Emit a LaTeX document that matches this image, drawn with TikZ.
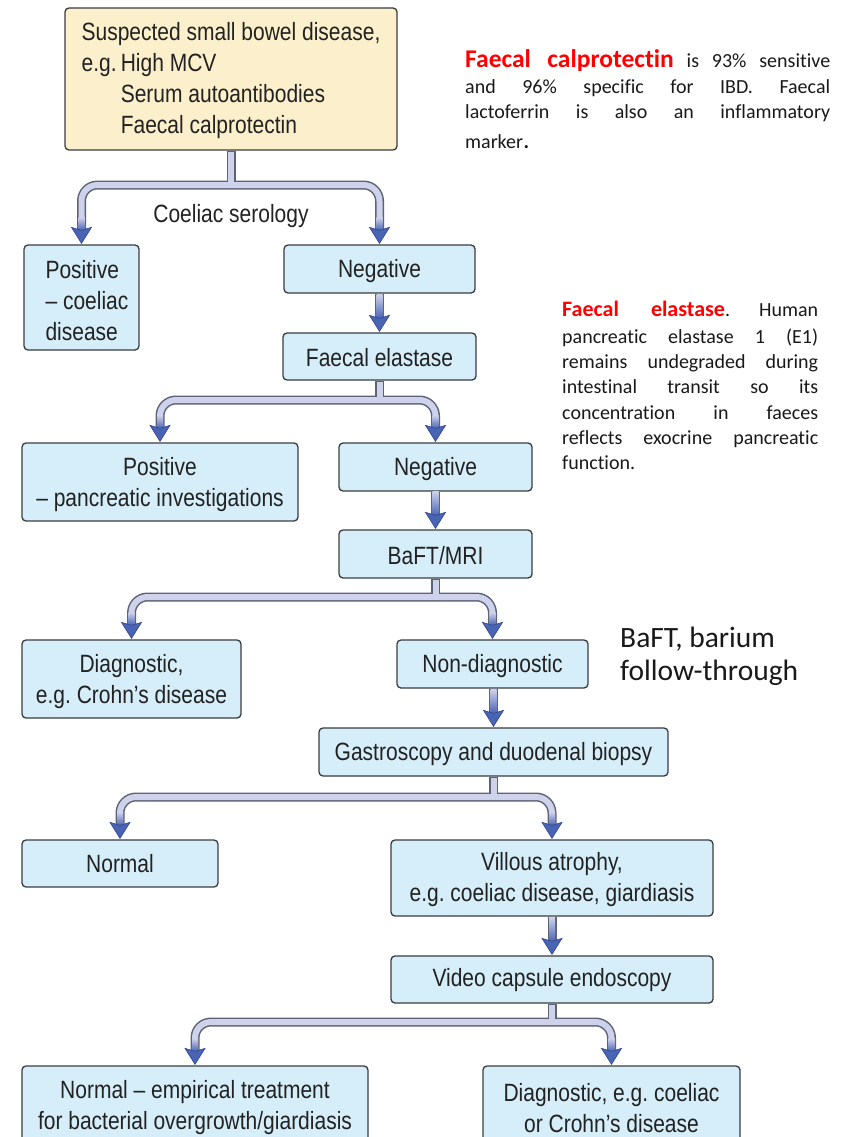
\documentclass[tikz,border=0pt]{standalone}
\usepackage{fontspec}
\usetikzlibrary{calc}
\newfontfamily\nar[FakeStretch=0.84]{Liberation Sans}
\newfontfamily\calfont[RawFeature=-liga]{Carlito}
\definecolor{boxblue}{HTML}{D6EEF9}
\definecolor{boxyel}{HTML}{FCEFCB}
\definecolor{boxline}{HTML}{3A3C40}
\definecolor{cout}{HTML}{5E6378}
\definecolor{cin}{HTML}{CED2EA}
\definecolor{cblue}{HTML}{4A64B4}
\definecolor{cbluedk}{HTML}{2F4390}
\definecolor{notered}{HTML}{FF0000}
\definecolor{txt}{HTML}{222222}

\newcommand\ahead[2]{%
  \shade[top color=cin, bottom color=cblue] ($(#1.north)+(-3,-#2)$) rectangle ($(#1.north)+(3,-14)$);
  \filldraw[headst] ($(#1.north)+(-10,-17)$) -- ($(#1.north)+(0,-1)$) -- ($(#1.north)+(10,-17)$) -- ($(#1.north)+(0,-14)$) -- cycle;}
\newcommand\branch[4]{%
  \coordinate (bb) at (0,#2);
  \draw[tubeout] (#1.south) -- (#1.south |- bb);
  \draw[tubeout, rounded corners=16pt] ($(#3.north)+(0,-14)$) -- (#3.north |- bb) -- (#4.north |- bb) -- ($(#4.north)+(0,-14)$);
  \draw[tubein] ($(#1.south)+(0,1)$) -- (#1.south |- bb);
  \draw[tubein, rounded corners=16pt] ($(#3.north)+(0,-14)$) -- (#3.north |- bb) -- (#4.north |- bb) -- ($(#4.north)+(0,-14)$);
  \ahead{#3}{27}\ahead{#4}{27}}
\newcommand\straight[2]{%
  \draw[tubeout] (#1.south -| #2.north) -- ($(#2.north)+(0,-14)$);
  \draw[tubein] ($(#1.south -| #2.north)+(0,1)$) -- ($(#2.north)+(0,-14)$);
  \ahead{#2}{38}}
\newcommand\lowered[2]{\raisebox{-#1pt}[\height][\depth]{#2}}

\begin{document}
\frenchspacing
\begin{tikzpicture}[x=1pt,y=-1pt,
  box/.style={draw=boxline, fill=boxblue, line width=1.3pt, rounded corners=4pt, inner sep=0pt, align=center, font=\nar\fontsize{25}{31}\selectfont\frenchspacing, text=txt},
  tubeout/.style={draw=cout, line width=9pt},
  tubein/.style={draw=cin, line width=6pt},
  headst/.style={fill=cblue, draw=cbluedk, line width=0.6pt, line join=miter},
  note/.style={inner sep=0pt, font=\calfont\fontsize{20}{25}\selectfont, anchor=base west, text=black!90}
]
\useasboundingbox (0,0) rectangle (845,1137);
\fill[white] (0,0) rectangle (845,1137);
\clip (0,0) rectangle (845,1137);

% boxes
\node[box, fill=boxyel, minimum width=332, minimum height=142] (top) at (231,79)
  {\lowered{2}{\begin{tabular}{@{}l@{}}Suspected small bowel disease,\\e.g.\,High MCV\\\hphantom{e.g.\,}Serum autoantibodies\\\hphantom{e.g.\,}Faecal calprotectin\end{tabular}}};
\node[box, minimum width=115, minimum height=105] (pc) at (81.5,297.5)
  {\lowered{6}{\begin{tabular}{@{\hspace{11pt}}l@{}}Positive\\– coeliac\\disease\end{tabular}}};
\node[box, minimum width=191, minimum height=48] (neg1) at (379.5,269) {\lowered{2}{Negative}};
\node[box, minimum width=193, minimum height=47] (fe) at (379.5,356.5) {\lowered{1}{Faecal elastase}};
\node[box, minimum width=276, minimum height=78] (pp) at (160,482) {\lowered{3}{\begin{tabular}{@{}c@{}}Positive\\– pancreatic investigations\end{tabular}}};
\node[box, minimum width=193, minimum height=48] (neg2) at (435.5,467) {\lowered{2}{Negative}};
\node[box, minimum width=193, minimum height=48] (baft) at (435.5,554) {\lowered{2}{BaFT/MRI}};
\node[box, minimum width=219, minimum height=78] (diag) at (131.5,679) {\lowered{3}{\begin{tabular}{@{}c@{}}Diagnostic,\\e.g. Crohn’s disease\end{tabular}}};
\node[box, minimum width=191, minimum height=48] (nond) at (492.5,664) {\lowered{2}{Non-diagnostic}};
\node[box, minimum width=349, minimum height=48] (gas) at (493.5,752) {\lowered{2}{Gastroscopy and duodenal biopsy}};
\node[box, minimum width=196, minimum height=47] (norm) at (120,863.5) {Normal};
\node[box, minimum width=322, minimum height=76] (vil) at (552,878) {\lowered{2}{\begin{tabular}{@{}c@{}}Villous atrophy,\\e.g. coeliac disease, giardiasis\end{tabular}}};
\node[box, minimum width=322, minimum height=47] (vce) at (552,979.5) {\lowered{1}{Video capsule endoscopy}};
\node[box, minimum width=346, minimum height=84] (nemp) at (195,1108) {Normal – empirical treatment\\for bacterial overgrowth/giardiasis};
\node[box, minimum width=257, minimum height=84] (dend) at (611.5,1108) {Diagnostic, e.g. coeliac\\or Crohn’s disease};

% connectors
\node[font=\nar\fontsize{25}{31}\selectfont, text=txt, inner sep=0pt] (cs) at (231,216) {Coeliac serology};
\branch{top}{185}{pc}{neg1}
\straight{neg1}{fe}
\branch{fe}{400}{pp}{neg2}
\straight{neg2}{baft}
\branch{baft}{597}{diag}{nond}
\straight{nond}{gas}
\branch{gas}{797}{norm}{vil}
\straight{vil}{vce}
\branch{vce}{1022}{nemp}{dend}

% notes
\node[note] (n1a) at (465,68) {\makebox[365pt][s]{{\fontsize{25.5}{25}\selectfont\bfseries\color{notered}Faecal calprotectin} is 93\% sensitive}};
\node[note] (n1b) at (465,94) {\makebox[365pt][s]{and 96\% specific for IBD. Faecal}};
\node[note] (n1c) at (465,119) {\makebox[365pt][s]{lactoferrin is also an inflammatory}};
\node[note] (n1d) at (465,149) {marker{\fontsize{26}{26}\selectfont.}};

\node[note] (n2a) at (562,316) {\makebox[256pt][s]{{\fontsize{22}{25}\selectfont\bfseries\color{notered}Faecal elastase}. Human}};
\node[note] (n2b) at (562,343) {\makebox[256pt][s]{pancreatic elastase 1 (E1)}};
\node[note] (n2c) at (562,368) {\makebox[256pt][s]{remains undegraded during}};
\node[note] (n2d) at (562,393) {\makebox[256pt][s]{intestinal transit so its}};
\node[note] (n2e) at (562,419) {\makebox[256pt][s]{concentration in faeces}};
\node[note] (n2f) at (562,444) {\makebox[256pt][s]{reflects exocrine pancreatic}};
\node[note] (n2g) at (562,469) {function.};

\node[note, font=\calfont\fontsize{29.5}{33}\selectfont] (n3a) at (620,647) {BaFT, barium};
\node[note, font=\calfont\fontsize{29.5}{33}\selectfont] (n3b) at (620,680) {follow-through};
\end{tikzpicture}
\end{document}
